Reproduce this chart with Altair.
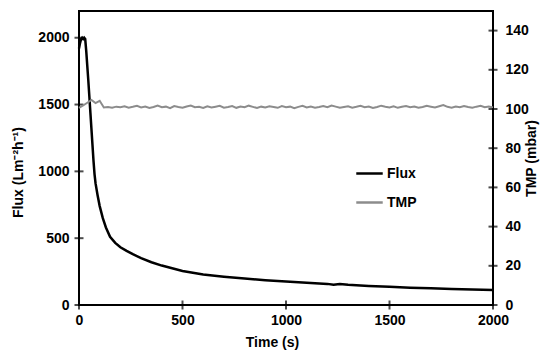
import altair as alt
import pandas as pd

# ---------------- data ----------------
flux_t = [0, 5, 10, 15, 20, 25, 30, 35, 40, 45, 50, 55, 60, 65, 70, 75, 80, 90,
          100, 115, 130, 150, 175, 200, 230, 260, 300, 350, 400, 450, 500, 600,
          700, 800, 900, 1000, 1100, 1200, 1230, 1260, 1300, 1400, 1500, 1600,
          1700, 1800, 1900, 2000]
flux_v = [1920, 1960, 1990, 2000, 1990, 2000, 1990, 1900, 1790, 1680, 1560, 1440,
          1320, 1200, 1080, 980, 910, 820, 740, 650, 580, 510, 465, 432, 405, 380,
          350, 320, 295, 275, 255, 228, 212, 198, 186, 176, 166, 158, 152, 157,
          152, 143, 136, 130, 125, 120, 116, 112]

tmp_t = list(range(0, 2001, 20))
tmp_v = [100.6, 101.8, 103.2, 104.6, 103.0, 104.2, 100.8, 101.0, 100.6, 101.2,
         100.9, 101.4, 100.7, 101.1, 101.6, 100.8, 101.3, 100.5, 101.0, 101.7,
         100.9, 101.2, 100.4, 101.5, 101.0, 100.6, 101.3, 101.8, 100.9, 101.1,
         100.5, 101.4, 100.8, 101.2, 101.6, 100.7, 101.0, 101.5, 100.6, 101.3,
         100.9, 101.7, 101.1, 100.5, 101.2, 100.8, 101.4, 101.0, 100.6, 101.5,
         100.9, 101.2, 100.4, 101.1, 101.6, 100.8, 101.3, 100.7, 101.0, 101.5,
         100.9, 101.8, 101.2, 100.6, 101.0, 101.4, 100.7, 101.1, 101.6, 100.9,
         101.3, 100.5, 101.0, 101.7, 101.2, 100.8, 101.4, 100.6, 101.1, 101.5,
         100.9, 101.3, 100.7, 101.0, 101.6, 101.2, 100.8, 101.4, 102.0, 101.1,
         100.7, 101.3, 100.9, 101.5, 101.0, 100.6, 101.2, 101.6, 100.9, 101.3,
         100.8]

x_ticks = [0, 500, 1000, 1500, 2000]
flux_ticks = [0, 500, 1000, 1500, 2000]
tmp_ticks = [0, 20, 40, 60, 80, 100, 120, 140]
series_names = ["Flux", "TMP"]
series_colors = ["#000000", "#8c8c8c"]

# ---------------- layout ----------------
W, H = 414, 294
FONT = "Liberation Sans"

flux_df = pd.DataFrame({"t": flux_t, "v": flux_v, "series": "Flux"})
tmp_df = pd.DataFrame({"t": tmp_t, "v": tmp_v, "series": "TMP"})
xt_df = pd.DataFrame({"t": x_ticks})
ft_df = pd.DataFrame({"v": flux_ticks})
tt_df = pd.DataFrame({"v": tmp_ticks})

x_enc = alt.X(
    "t:Q",
    scale=alt.Scale(domain=[0, 2000], nice=False, zero=False),
    title="Time (s)",
    axis=alt.Axis(values=x_ticks, ticks=False, domain=False, grid=False,
                  labelFlush=False, labelOverlap=False,
                  labelPadding=8, titlePadding=8, titleX=193, format="d"),
)
yl_enc = alt.Y(
    "v:Q",
    scale=alt.Scale(domain=[0, 2200], nice=False),
    title="Flux (Lm⁻²h⁻¹)",
    axis=alt.Axis(values=flux_ticks, ticks=False, domain=False, grid=False,
                  labelFlush=False, labelOverlap=False,
                  labelPadding=10, titlePadding=12, titleY=161, format="d"),
)
yr_enc = alt.Y(
    "v:Q",
    scale=alt.Scale(domain=[0, 150], nice=False),
    title="TMP (mbar)",
    axis=alt.Axis(orient="right", values=tmp_ticks, ticks=False, domain=False,
                  grid=False, labelFlush=False, labelOverlap=False,
                  labelPadding=12, titlePadding=10, titleAngle=270,
                  format="d"),
)
color_enc = alt.Color(
    "series:N",
    scale=alt.Scale(domain=series_names, range=series_colors),
    legend=alt.Legend(orient="none", legendX=276, legendY=148, title=None,
                      symbolType="stroke", symbolStrokeWidth=2.5, symbolSize=700,
                      labelFont=FONT, labelFontSize=14, labelFontWeight="bold",
                      labelColor="black", labelOffset=3, rowPadding=7),
)

flux_line = alt.Chart(flux_df).mark_line(strokeWidth=2.5).encode(
    x=x_enc, y=yl_enc, color=color_enc)
flux_tk = alt.Chart(ft_df).mark_tick(orient="horizontal", size=9, thickness=2,
                                     color="black").encode(y=yl_enc, x=alt.value(0))
x_tk = alt.Chart(xt_df).mark_tick(orient="vertical", size=9, thickness=2,
                                  color="black").encode(x=x_enc, y=alt.value(H))
left = alt.layer(flux_line, flux_tk, x_tk)

tmp_line = alt.Chart(tmp_df).mark_line(strokeWidth=2).encode(
    x=x_enc, y=yr_enc, color=color_enc)
tmp_tk = alt.Chart(tt_df).mark_tick(orient="horizontal", size=9, thickness=2,
                                    color="black").encode(y=yr_enc, x=alt.value(W))
right = alt.layer(tmp_line, tmp_tk)

chart = (
    alt.layer(left, right)
    .resolve_scale(y="independent")
    .properties(width=W, height=H, background="white",
                autosize=alt.AutoSizeParams(type="none"),
                padding={"left": 79, "top": 11, "right": 55, "bottom": 53})
    .configure_view(stroke="black", strokeWidth=2)
    .configure_axis(labelFont=FONT, labelFontSize=14, labelFontWeight="bold",
                    labelColor="black", titleFont=FONT, titleFontSize=14,
                    titleFontWeight="bold", titleColor="black")
)

chart.save("out.html", embed_options={"renderer": "svg", "actions": False})
